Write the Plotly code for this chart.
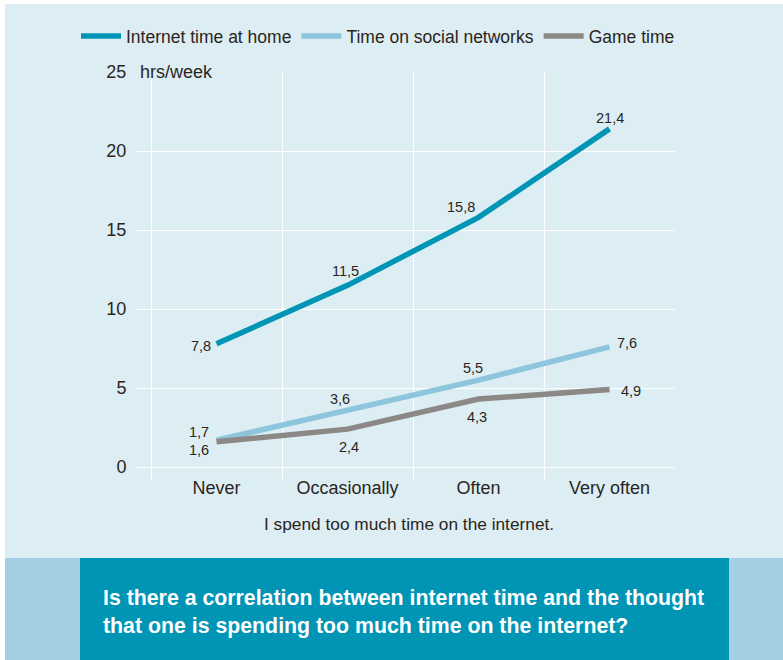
import plotly.graph_objects as go

categories = ["Never", "Occasionally", "Often", "Very often"]
internet_home = [7.8, 11.5, 15.8, 21.4]
social_networks = [1.7, 3.6, 5.5, 7.6]
game_time = [1.6, 2.4, 4.3, 4.9]
y_ticks = [0, 5, 10, 15, 20, 25]

W, H = 783, 660
TXT = "#2a2520"
BG = "#ddedf4"

def fmt(v):
    return f"{v:.1f}".replace(".", ",")

series = [
    ("Internet time at home", internet_home, "#0094b5",
     [(-16, 2), (-2, -14), (-18, -10), (0, -11)]),
    ("Time on social networks", social_networks, "#8cc5dc",
     [(-18, -8), (-8, -11), (-6, -12), (17, -4)]),
    ("Game time", game_time, "#8b8886",
     [(-18, 8), (1, 18), (-2, 18), (21, 1)]),
]

fig = go.Figure()
annotations = []
for name, vals, color, offs in series:
    fig.add_trace(go.Scatter(x=categories, y=vals, name=name, mode="lines",
                             line=dict(color=color, width=5.5)))
    for c, v, (dx, dy) in zip(categories, vals, offs):
        annotations.append(dict(x=c, y=v, xref="x", yref="y", text=fmt(v), showarrow=False,
                                xshift=dx, yshift=-dy, xanchor="center", yanchor="middle",
                                font=dict(size=14.5, color=TXT)))

x0, x1 = 137 / W, 675 / W
y_top, y_bot = 1 - 72 / H, 1 - 480 / H

shapes = [
    dict(type="rect", xref="paper", yref="paper", x0=5 / W, x1=1, y0=1 - 558 / H, y1=1 - 4 / H,
         fillcolor=BG, line=dict(width=0), layer="below"),
    dict(type="rect", xref="paper", yref="paper", x0=5 / W, x1=1, y0=0, y1=1 - 558 / H,
         fillcolor="#a4cee1", line=dict(width=0), layer="below"),
    dict(type="rect", xref="paper", yref="paper", x0=80 / W, x1=729 / W, y0=0, y1=1 - 558 / H,
         fillcolor="#0094b5", line=dict(width=0), layer="below"),
]

annotations += [
    dict(text="hrs/week", xref="paper", yref="y", x=138 / W, y=25, xanchor="left", yanchor="middle",
         showarrow=False, font=dict(size=18, color=TXT)),
    dict(text="I spend too much time on the internet.", xref="paper", yref="paper",
         x=408.5 / W, y=1 - 524 / H, xanchor="center", yanchor="middle",
         showarrow=False, font=dict(size=17.3, color=TXT)),
    dict(text="<b>Is there a correlation between internet time and the thought<br>that one is spending too much time on the internet?</b>",
         xref="paper", yref="paper", x=101 / W, y=1 - 612 / H, xanchor="left", yanchor="middle",
         align="left", showarrow=False, font=dict(size=21.3, color="white")),
]

fig.update_layout(
    width=W, height=H, margin=dict(l=0, r=0, t=0, b=0, autoexpand=False),
    paper_bgcolor="white", plot_bgcolor="rgba(0,0,0,0)",
    font=dict(family="Liberation Sans, Arial, sans-serif", color=TXT, size=18),
    shapes=shapes, annotations=annotations,
    showlegend=True,
    legend=dict(orientation="h", x=76 / W, y=1 - 36 / H, xanchor="left", yanchor="middle",
                bgcolor="rgba(0,0,0,0)", font=dict(size=17.5, color=TXT), itemwidth=40,
                traceorder="normal"),
    xaxis=dict(domain=[x0, x1], type="category", range=[-0.607, 3.5],
               tickson="boundaries", showgrid=True, gridcolor="white", gridwidth=1.2,
               ticks="", showline=False, zeroline=False, ticklabelstandoff=-5,
               tickfont=dict(size=18, color=TXT)),
    yaxis=dict(domain=[y_bot, y_top], range=[-0.82, 25], tickvals=y_ticks,
               showgrid=True, gridcolor="white", gridwidth=1.2, zeroline=False,
               showline=False, ticks="outside", ticklen=6, tickcolor="rgba(0,0,0,0)",
               tickfont=dict(size=18, color=TXT)),
)

fig.write_html("out.html", config={"displayModeBar": False},
               post_script="document.body.style.margin='0';document.body.style.padding='0';document.documentElement.style.margin='0';")
